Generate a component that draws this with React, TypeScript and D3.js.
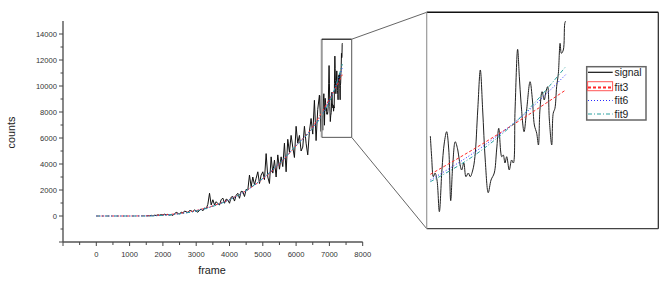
import React from "react";
import * as d3 from "d3";

// signal sampled every 50 frames, 1500..6750
const coarseFrames = d3.range(1500, 6800, 50);
const coarseCounts = [
  0, 30, 10, 50, 20, 60, 40, 90, 60, 110,
  80, 140, 90, 130, 60, 100, 40, 180, 280, 220,
  150, 300, 230, 380, 330, 260, 420, 400, 320, 480,
  360, 290, 460, 540, 400, 620, 560, 900, 1750, 850,
  1250, 850, 1100, 950, 850, 1250, 1380, 980, 1300, 1230,
  980, 1450, 1500, 1150, 1600, 1750, 1360, 1900, 1870, 1500,
  2050, 2000, 3150, 2250, 3000, 2400, 2900, 3400, 2500, 3150,
  3400, 2800, 4800, 3000, 2500, 4550, 3300, 4300, 3000, 4700,
  3600, 4550, 3800, 5600, 3400, 5900, 4900, 6200, 5300, 4500,
  6900, 5600, 6200, 5000, 5300, 6900, 5600, 4700, 6500, 7500,
  6300, 8900, 5800, 8200, 9300, 6500,
];

// the zoomed part of the signal, finer sampling
const detailSignal: [number, number][] = [
  [6757, 9256], [6763, 8529], [6771, 7826], [6779, 7956], [6788, 7710],
  [6799, 6597], [6811, 8062], [6822, 9010], [6833, 9407], [6843, 8764],
  [6852, 6983], [6861, 8177], [6873, 9055], [6885, 8764], [6892, 8413],
  [6903, 8062], [6913, 8307], [6923, 7826], [6934, 7956], [6943, 7826],
  [6955, 8062], [6965, 8529], [6978, 10169], [6990, 11574], [7001, 10169],
  [7013, 8413], [7027, 7264], [7040, 7710], [7055, 7956], [7066, 8764],
  [7076, 9526], [7090, 8529], [7097, 8588], [7105, 8307], [7113, 8529],
  [7125, 8062], [7136, 8413], [7144, 8307], [7152, 10169], [7164, 12300],
  [7172, 11338], [7180, 10415], [7194, 9407], [7206, 10169], [7222, 11163],
  [7233, 10520], [7242, 9642], [7253, 9350], [7261, 8940], [7268, 10169],
  [7278, 10811], [7288, 10520], [7296, 10811], [7304, 10987], [7312, 9818],
  [7323, 8940], [7330, 10053], [7338, 10228], [7346, 10987], [7354, 11457],
  [7362, 12511], [7368, 12160], [7377, 12276], [7384, 13214], [7388, 13294],
];

const fitFrames = [0, 500, 1000, 1500, 2000, 2500, 3000, 3500, 4000, 4500, 5000, 5500, 6000, 6500, 6757, 7000, 7200, 7388];
const fit3 = [0, 0, 0, 20, 80, 200, 420, 780, 1280, 1950, 2850, 4000, 5400, 6850, 7910, 8980, 9930, 10870];
const fit6 = [0, 0, 0, 10, 60, 180, 400, 760, 1260, 1950, 2880, 4050, 5420, 6780, 7710, 8880, 10050, 11410];
const fit9 = [0, 0, 0, 0, 50, 170, 380, 740, 1250, 1960, 2900, 4070, 5400, 6750, 7650, 8780, 10080, 11690];

const frameTicks = [0, 1000, 2000, 3000, 4000, 5000, 6000, 7000, 8000];
const countTicks = [0, 2000, 4000, 6000, 8000, 10000, 12000, 14000];
const zoomFrames = [6770, 7670];
const zoomCounts = [6050, 13600];

const FONT = "'Liberation Sans', Arial, sans-serif";

const series = [
  { name: "fit3", values: fit3, color: "#ff2a2a", dash: "3,2" },
  { name: "fit6", values: fit6, color: "#2a2aff", dash: "1,2" },
  { name: "fit9", values: fit9, color: "#2aa0a0", dash: "4,2,1,2" },
];

type Pt = [number, number];

export default function App() {
  const x = d3.scaleLinear().domain([-1000, 8000]).range([63, 362.7]);
  const y = d3.scaleLinear().domain([-2000, 15000]).range([242, 21]);
  const ix = d3.scaleLinear().domain([6740, 7820]).range([426.7, 658.3]);
  const iy = d3.scaleLinear().domain([6000, 13600]).range([228.7, 12.3]);

  const signal: Pt[] = coarseFrames
    .map((f, i) => [f, coarseCounts[i]] as Pt)
    .concat(detailSignal);

  const mainLine = d3.line<Pt>().x(d => x(d[0])).y(d => y(d[1]));
  const mainFit = d3.line<Pt>().x(d => x(d[0])).y(d => y(d[1])).curve(d3.curveMonotoneX);
  const insetLine = d3.line<Pt>().x(d => ix(d[0])).y(d => iy(d[1])).curve(d3.curveCatmullRom.alpha(0.5));
  const insetFit = d3.line<Pt>().x(d => ix(d[0])).y(d => iy(d[1])).curve(d3.curveMonotoneX);

  const fitPts = (vals: number[]) => fitFrames.map((f, i) => [f, vals[i]] as Pt);
  const startF = detailSignal[0][0];

  const minorX = d3.range(-500, 8000, 1000);
  const minorY = d3.range(-1000, 15000, 2000);

  const bx0 = x(zoomFrames[0]), bx1 = x(zoomFrames[1]);
  const by0 = y(zoomCounts[1]), by1 = y(zoomCounts[0]);
  const [ix0, ix1] = ix.range();
  const [iy1, iy0] = iy.range();

  const legendX = 586.7, legendY = 66.7;
  const rowY = [72.3, 87.5, 100.5, 114];

  return (
    <svg width={665} height={283} style={{ position: "absolute", left: 0, top: 0, background: "#fff" }} fontFamily={FONT}>
      {/* main axes */}
      <line x1={x(-1000)} x2={x(-1000)} y1={y(15000)} y2={y(-2000)} stroke="#555" strokeWidth={1.4} />
      <line x1={x(-1000)} x2={x(8000)} y1={y(-2000)} y2={y(-2000)} stroke="#555" strokeWidth={1.4} />
      {[-2000, ...countTicks].map(v => (
        <line key={"yt" + v} x1={x(-1000) - 4} x2={x(-1000)} y1={y(v)} y2={y(v)} stroke="#444" />
      ))}
      {minorY.map(v => (
        <line key={"ym" + v} x1={x(-1000) - 2.5} x2={x(-1000)} y1={y(v)} y2={y(v)} stroke="#444" />
      ))}
      {countTicks.map(v => (
        <text key={"yl" + v} x={x(-1000) - 6} y={y(v) + 2.7} fontSize={7.6} fill="#333" textAnchor="end">{v}</text>
      ))}
      {[-1000, ...frameTicks].map(v => (
        <line key={"xt" + v} x1={x(v)} x2={x(v)} y1={y(-2000)} y2={y(-2000) + 4} stroke="#444" />
      ))}
      {minorX.map(v => (
        <line key={"xm" + v} x1={x(v)} x2={x(v)} y1={y(-2000)} y2={y(-2000) + 3} stroke="#444" />
      ))}
      {frameTicks.map(v => (
        <text key={"xl" + v} x={x(v)} y={257} fontSize={7.6} fill="#333" textAnchor="middle">{v}</text>
      ))}
      <text x={212} y={274} fontSize={10.8} fill="#222" textAnchor="middle">frame</text>
      <text transform="translate(15,132.5) rotate(-90)" fontSize={10.8} fill="#222" textAnchor="middle">counts</text>

      {/* main data */}
      <path d={mainLine(signal) ?? ""} fill="none" stroke="#111" strokeWidth={1} />
      {series.map(s => (
        <path key={"mf" + s.name} d={mainFit(fitPts(s.values)) ?? ""} fill="none" stroke={s.color} strokeWidth={1} strokeDasharray={s.dash} />
      ))}

      {/* zoom box and connectors */}
      <line x1={bx0} x2={bx0} y1={by0} y2={by1} stroke="#999" strokeWidth={2} />
      <line x1={bx0} x2={bx1} y1={by0} y2={by0} stroke="#111" strokeWidth={1.2} />
      <line x1={bx1} x2={bx1} y1={by0} y2={by1} stroke="#555" strokeWidth={1} />
      <line x1={bx0} x2={bx1} y1={by1} y2={by1} stroke="#555" strokeWidth={1} />
      <line x1={bx1} x2={ix0} y1={by0} y2={iy0} stroke="#666" strokeWidth={1} />
      <line x1={bx1} x2={ix0} y1={by1} y2={iy1} stroke="#666" strokeWidth={1} />

      {/* inset */}
      <rect x={ix0} y={iy0} width={ix1 - ix0} height={iy1 - iy0} fill="#fff" stroke="none" />
      <line x1={ix0} x2={ix1} y1={iy0} y2={iy0} stroke="#111" strokeWidth={1.4} />
      <line x1={ix1} x2={ix1} y1={iy0} y2={iy1} stroke="#222" strokeWidth={1.2} />
      <line x1={ix0} x2={ix1} y1={iy1} y2={iy1} stroke="#444" strokeWidth={1.2} />
      <line x1={ix0} x2={ix0} y1={iy0} y2={iy1} stroke="#999" strokeWidth={1.2} />
      <path d={insetLine(detailSignal) ?? ""} fill="none" stroke="#222" strokeWidth={1} />
      {series.map(s => (
        <path key={"if" + s.name} d={insetFit(fitPts(s.values).filter(p => p[0] >= startF)) ?? ""} fill="none" stroke={s.color} strokeWidth={1} strokeDasharray={s.dash} />
      ))}

      {/* legend */}
      <rect x={legendX} y={legendY} width={59.3} height={53.3} fill="#fff" stroke="#666" strokeWidth={1.5} />
      <line x1={588} x2={612.7} y1={rowY[0]} y2={rowY[0]} stroke="#111" strokeWidth={1.2} />
      <rect x={587.6} y={81.7} width={25} height={9} fill="#fff" stroke="#ff5555" strokeWidth={1} />
      <line x1={588} x2={612.7} y1={rowY[1]} y2={rowY[1]} stroke={series[0].color} strokeWidth={2} strokeDasharray="3,2" />
      <line x1={588} x2={612.7} y1={rowY[2]} y2={rowY[2]} stroke={series[1].color} strokeWidth={1} strokeDasharray={series[1].dash} />
      <line x1={588} x2={612.7} y1={rowY[3]} y2={rowY[3]} stroke={series[2].color} strokeWidth={1} strokeDasharray={series[2].dash} />
      {["signal", ...series.map(s => s.name)].map((n, i) => (
        <text key={"lg" + n} x={614.5} y={rowY[i] + 3.6} fontSize={10.4} fill="#222">{n}</text>
      ))}
    </svg>
  );
}
